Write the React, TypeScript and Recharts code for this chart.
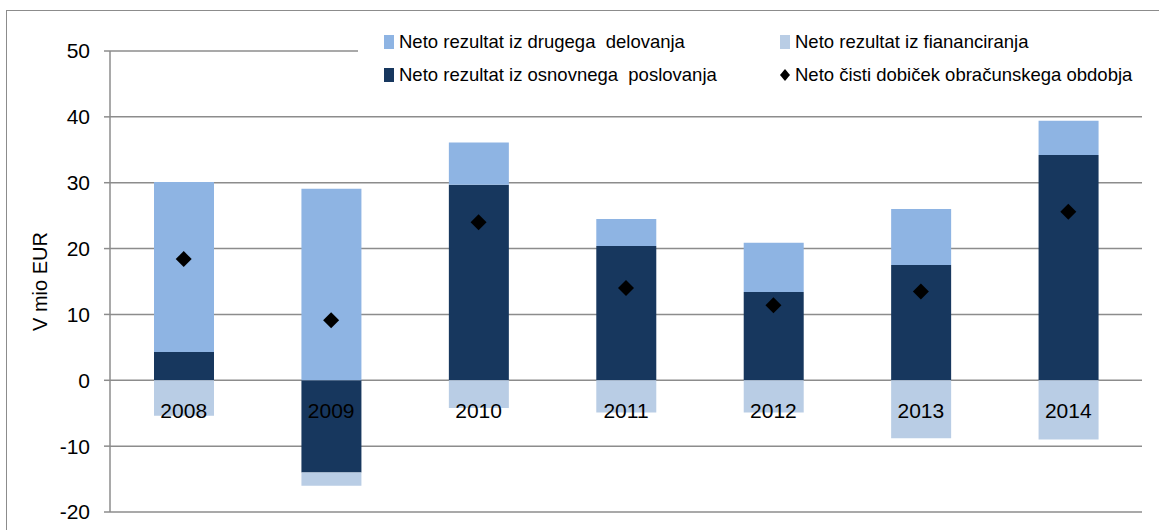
import React from 'react';
import { ComposedChart, Bar, Scatter, XAxis, YAxis, CartesianGrid, Label } from 'recharts';

const years = ['2008', '2009', '2010', '2011', '2012', '2013', '2014'];
const osnovno = [4.3, -14.0, 29.7, 20.4, 13.4, 17.5, 34.2];
const drugo = [25.8, 29.1, 6.4, 4.1, 7.5, 8.5, 5.2];
const financiranje = [-5.4, -2.0, -4.2, -4.9, -4.9, -8.8, -9.0];
const dobicek = [18.4, 9.1, 24.0, 14.0, 11.4, 13.5, 25.6];
const yTicks = [-20, -10, 0, 10, 20, 30, 40, 50];

const W = 1159;
const H = 530;
const TOP = 51;
const X_AXIS_H = 18;
const Y_MIN = -20;
const Y_MAX = 50;
const FONT = "'Liberation Sans', Arial, sans-serif";
const GRID = '#8c8c8c';

const C_DRUGO = '#8eb4e3';
const C_OSNOVNO = '#17375e';
const C_FIN = '#b9cde5';

const data = years.map((year, i) => ({
  year,
  osnovno: osnovno[i],
  drugo: drugo[i],
  financiranje: financiranje[i],
  dobicek: dobicek[i],
}));

// category labels sit just under the zero line, like the Excel original
function YearTick(props: any) {
  const plotH = H - TOP - X_AXIS_H;
  const zeroY = TOP + (plotH * Y_MAX) / (Y_MAX - Y_MIN);
  return (
    <text x={props.x} y={zeroY + 38} textAnchor="middle" fontSize={21} fontFamily={FONT} fill="#000">
      {props.payload.value}
    </text>
  );
}

function Diamond(props: any) {
  const { cx, cy } = props;
  const r = 8;
  return <path d={`M${cx},${cy - r}L${cx + r},${cy}L${cx},${cy + r}L${cx - r},${cy}Z`} fill="#000" />;
}

function LegendBox() {
  const item = (label: string, marker: React.ReactNode) => (
    <div style={{ display: 'flex', alignItems: 'center', height: 33 }}>
      <div style={{ width: 14, display: 'flex', justifyContent: 'center', marginRight: 3 }}>{marker}</div>
      <span>{label}</span>
    </div>
  );
  const sq = (c: string) => <div style={{ width: 10, height: 14, background: c }} />;
  const dia = (
    <svg width={10} height={12}>
      <path d="M5,0L10,6L5,12L0,6Z" fill="#000" />
    </svg>
  );
  return (
    <div
      style={{
        position: 'absolute',
        left: 358,
        top: 25,
        background: '#fff',
        width: 790,
        padding: '0 0 0 24px',
        display: 'grid',
        gridTemplateColumns: '396px 370px',
        fontFamily: FONT,
        fontSize: 18.5,
        color: '#000',
        whiteSpace: 'pre',
      }}
    >
      {item('Neto rezultat iz drugega  delovanja', sq(C_DRUGO))}
      {item('Neto rezultat iz fiananciranja', sq(C_FIN))}
      {item('Neto rezultat iz osnovnega  poslovanja', sq(C_OSNOVNO))}
      {item('Neto čisti dobiček obračunskega obdobja', dia)}
    </div>
  );
}

export default function App() {
  return (
    <div style={{ position: 'absolute', left: 0, top: 0, width: W, height: H, background: '#fff', overflow: 'hidden' }}>
      <div style={{ position: 'absolute', left: 6, top: 10, width: 1300, height: 700, border: '1.5px solid #8c8c8c' }} />
      <div style={{ position: 'absolute', left: 0, top: 0 }}>
        <ComposedChart width={W} height={H} data={data} stackOffset="sign" margin={{ top: TOP, right: 17, bottom: 0, left: 0 }}>
          <CartesianGrid vertical={false} stroke={GRID} strokeWidth={1.5} />
          <XAxis dataKey="year" height={X_AXIS_H} axisLine={false} tickLine={false} tick={<YearTick />} interval={0} />
          <YAxis
            width={110}
            domain={[Y_MIN, Y_MAX]}
            ticks={yTicks}
            interval={0}
            allowDataOverflow
            axisLine={{ stroke: GRID, strokeWidth: 1.5 }}
            tickLine={{ stroke: GRID, strokeWidth: 1.5 }}
            tickSize={6}
            tickMargin={14}
            tick={{ fontSize: 21, fontFamily: FONT, fill: '#000' }}
          >
            <Label
              content={({ viewBox }: any) => {
                const cy = viewBox.y + viewBox.height / 2;
                return (
                  <text x={40} y={cy} transform={`rotate(-90, 40, ${cy})`} textAnchor="middle" dominantBaseline="central" fontSize={20} fontFamily={FONT} fill="#000">
                    V mio EUR
                  </text>
                );
              }}
            />
          </YAxis>
          <Bar dataKey="osnovno" name="Neto rezultat iz osnovnega poslovanja" stackId="a" fill={C_OSNOVNO} barSize={60} isAnimationActive={false} />
          <Bar dataKey="drugo" name="Neto rezultat iz drugega delovanja" stackId="a" fill={C_DRUGO} barSize={60} isAnimationActive={false} />
          <Bar dataKey="financiranje" name="Neto rezultat iz fiananciranja" stackId="a" fill={C_FIN} barSize={60} isAnimationActive={false} />
          <Scatter dataKey="dobicek" name="Neto čisti dobiček obračunskega obdobja" shape={<Diamond />} isAnimationActive={false} />
        </ComposedChart>
      </div>
      <LegendBox />
    </div>
  );
}
